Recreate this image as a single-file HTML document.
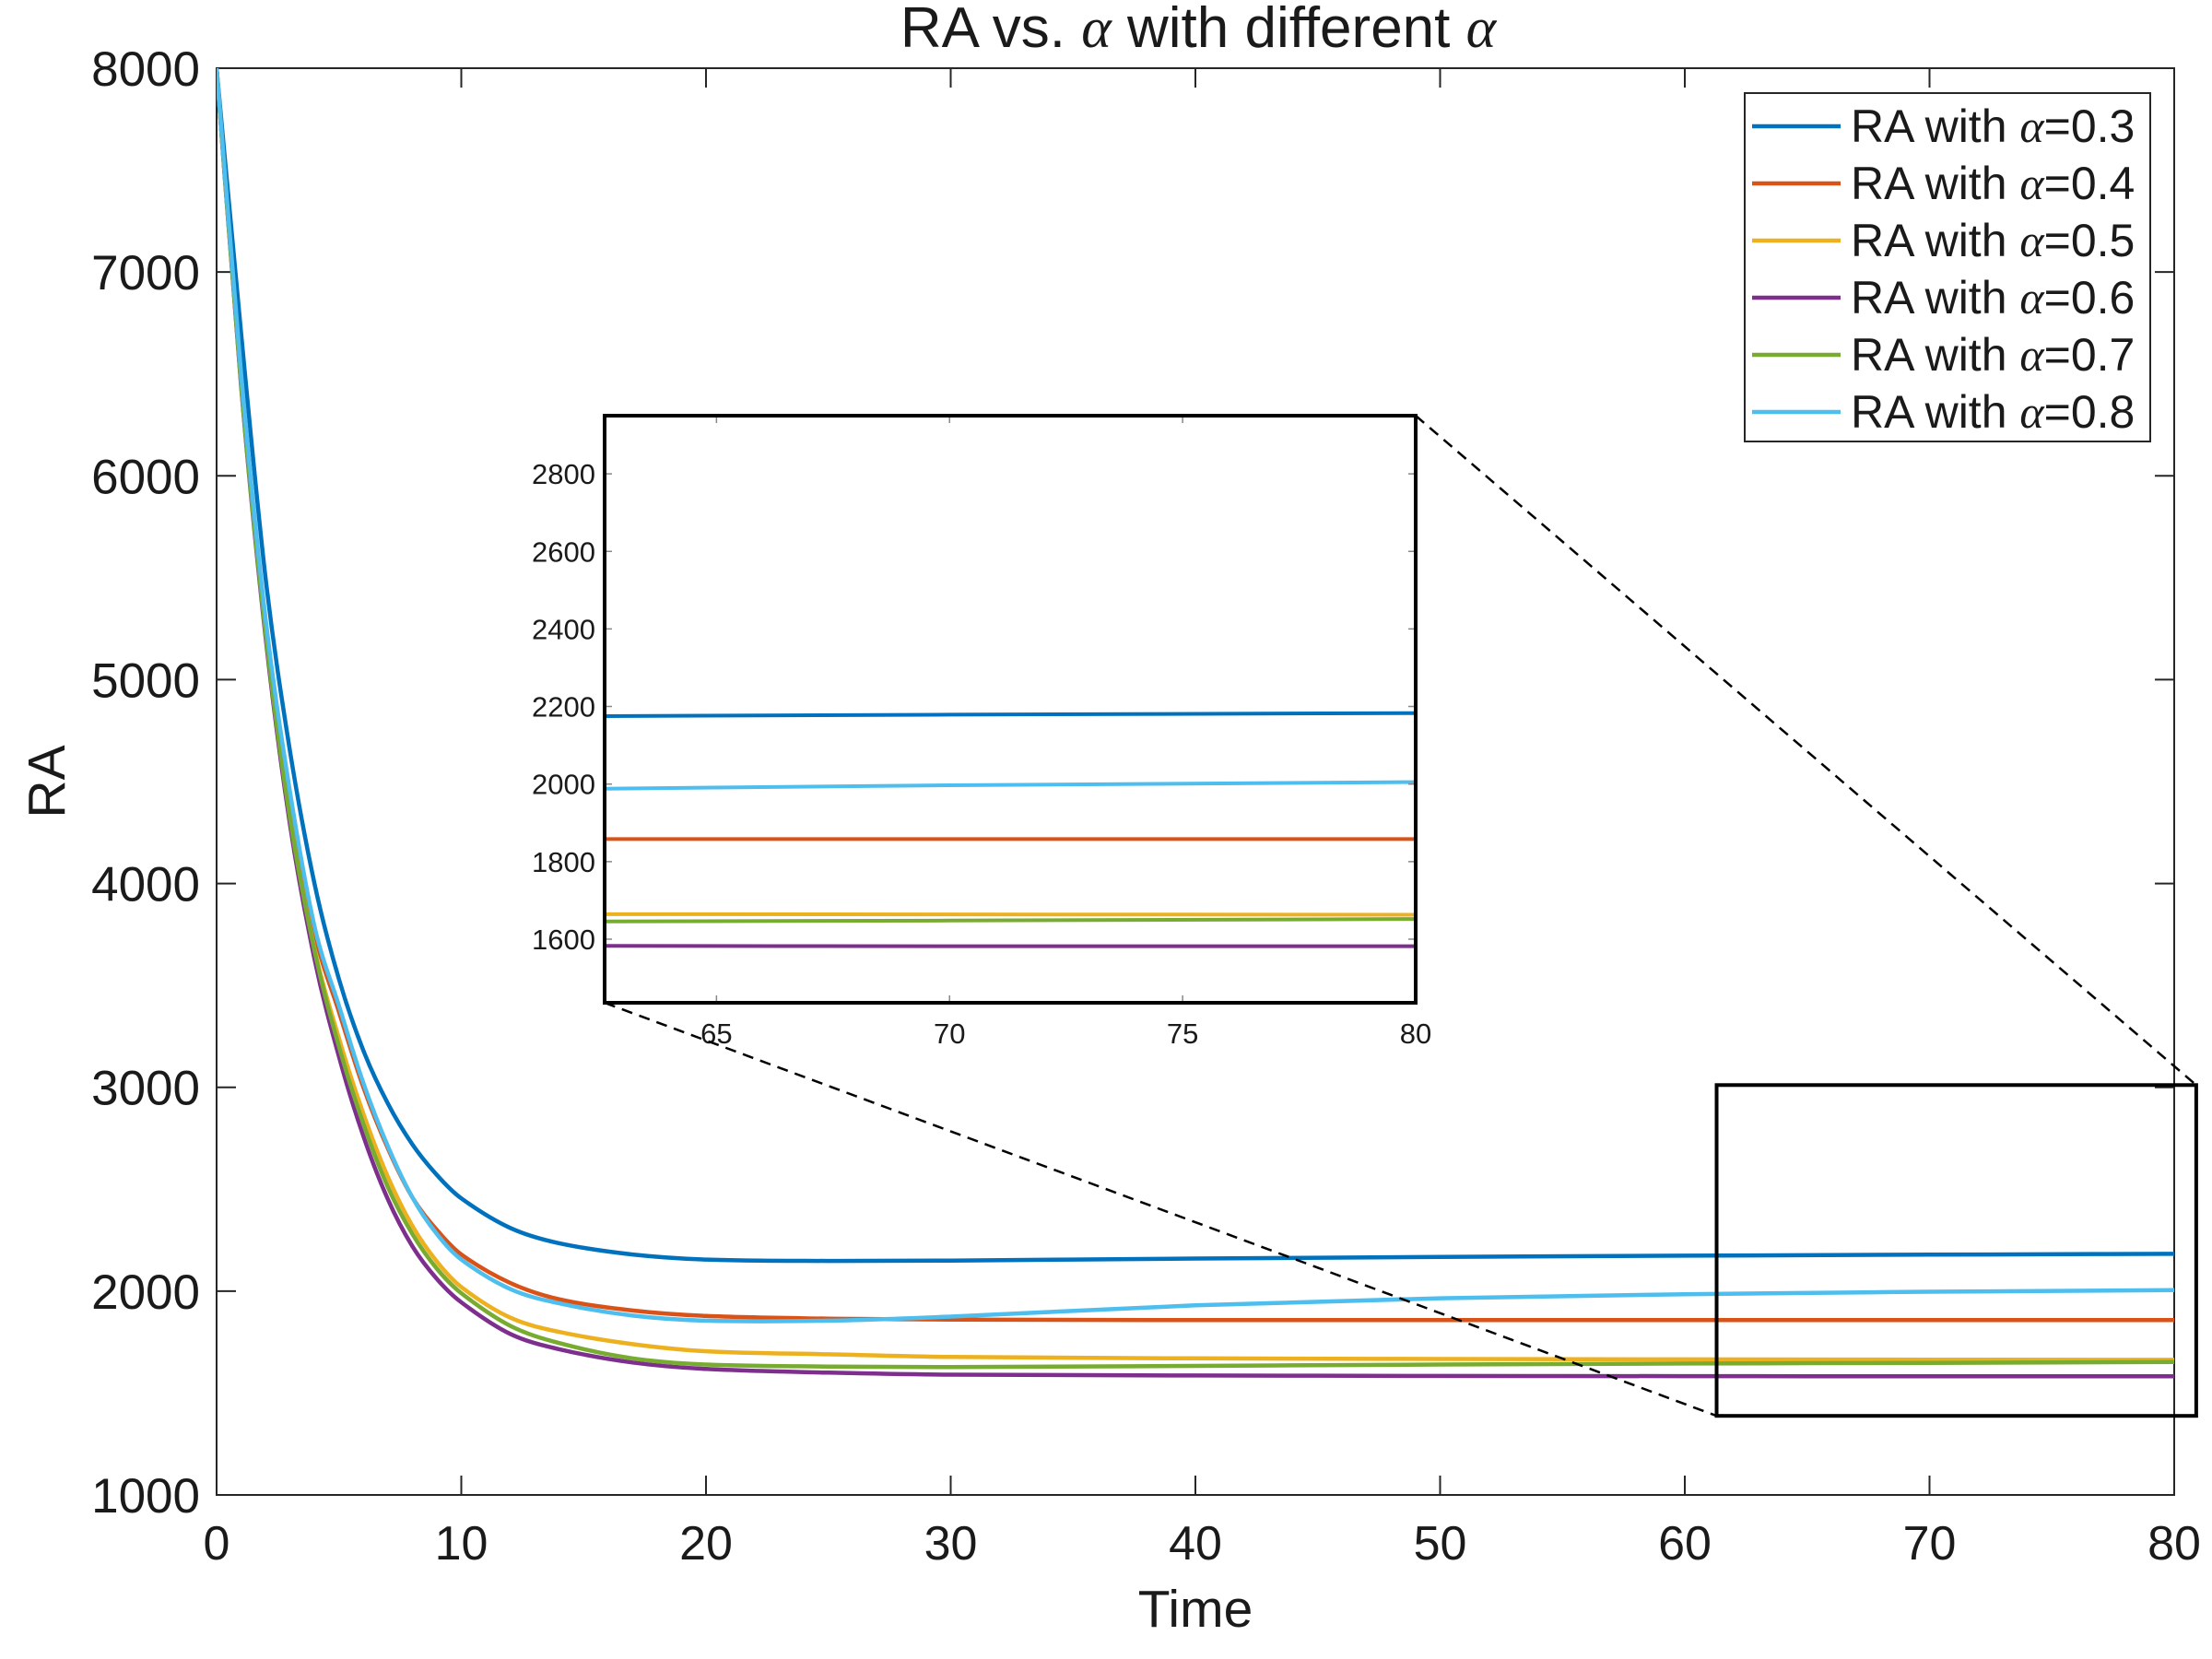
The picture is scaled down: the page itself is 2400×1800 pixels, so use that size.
<!DOCTYPE html>
<html><head><meta charset="utf-8">
<style>
html,body{margin:0;padding:0;background:#fff;}
svg{display:block;}
text{font-family:"Liberation Sans",sans-serif;fill:#1a1a1a;}
.alpha{font-family:"Liberation Serif",serif;font-style:italic;}
</style></head>
<body>
<svg id="chart" width="2400" height="1800" viewBox="0 0 2400 1800" xmlns="http://www.w3.org/2000/svg">
<defs>
<clipPath id="mainClip"><rect x="235" y="74" width="2124" height="1548"/></clipPath>
<clipPath id="insetClip"><rect x="656" y="451" width="880" height="637"/></clipPath>
</defs>
<g id="layer"></g>
</svg>
<script>
const times = [0,1,2,3,4,5,6,7,8,9,10,12,14,17,20,25,30,40,50,60,70,80];
const ra03 = [8000,6700,5500,4650,4000,3530,3180,2920,2720,2570,2455,2310,2235,2180,2155,2148,2150,2160,2168,2174,2179,2183];
const ra04 = [8000,6480,5280,4420,3760,3370,3000,2700,2460,2300,2180,2040,1960,1905,1878,1865,1860,1858,1858,1858,1858,1858];
const ra05 = [8000,6450,5230,4320,3680,3240,2870,2560,2320,2145,2020,1870,1800,1740,1705,1690,1677,1670,1667,1665,1664,1663];
const ra06 = [8000,6440,5210,4290,3630,3150,2760,2450,2220,2060,1945,1790,1715,1650,1618,1600,1590,1586,1584,1583,1582,1582];
const ra07 = [8000,6450,5230,4320,3670,3200,2820,2510,2280,2110,1990,1830,1745,1670,1640,1630,1627,1633,1640,1645,1648,1652];
const ra08 = [8000,6500,5300,4450,3790,3400,3020,2710,2460,2280,2155,2010,1940,1880,1855,1855,1875,1930,1965,1985,1997,2005];
const seriesLabels = ["0.3","0.4","0.5","0.6","0.7","0.8"];
const seriesColors = ["#0072BD","#D95319","#EDB120","#7E2F8E","#77AC30","#4DBEEE"];
const xTicks = [0,10,20,30,40,50,60,70,80];
const yTicks = [1000,2000,3000,4000,5000,6000,7000,8000];
const insetXTicks = [65,70,75,80];
const insetYTicks = [1600,1800,2000,2200,2400,2600,2800];

const NS = "http://www.w3.org/2000/svg";
const layer = document.getElementById('layer');
const allSeries = [ra03,ra04,ra05,ra06,ra07,ra08];

const M = {x0:235,x1:2359,y0:1622,y1:74,tmin:0,tmax:80,vmin:1000,vmax:8000};
function mx(t){return M.x0+(t-M.tmin)/(M.tmax-M.tmin)*(M.x1-M.x0);}
function my(v){return M.y0-(v-M.vmin)/(M.vmax-M.vmin)*(M.y0-M.y1);}
const I = {x0:656,x1:1536,y0:1088,y1:451,tmin:62.6,tmax:80,vmin:1436,vmax:2950};
function ix(t){return I.x0+(t-I.tmin)/(I.tmax-I.tmin)*(I.x1-I.x0);}
function iy(v){return I.y0-(v-I.vmin)/(I.vmax-I.vmin)*(I.y0-I.y1);}

function el(tag, attrs, parent){
  const e=document.createElementNS(NS,tag);
  for(const k in attrs) e.setAttribute(k,attrs[k]);
  (parent||layer).appendChild(e);
  return e;
}
function smoothPath(xs, ys, fx, fy){
  const n=xs.length;
  const m=[];
  for(let i=0;i<n;i++){
    if(i===0) m.push((ys[1]-ys[0])/(xs[1]-xs[0]));
    else if(i===n-1) m.push((ys[n-1]-ys[n-2])/(xs[n-1]-xs[n-2]));
    else m.push((ys[i+1]-ys[i-1])/(xs[i+1]-xs[i-1]));
  }
  let d="M"+fx(xs[0]).toFixed(1)+","+fy(ys[0]).toFixed(1);
  for(let i=0;i<n-1;i++){
    const h=xs[i+1]-xs[i];
    const c1t=xs[i]+h/3, c1v=ys[i]+m[i]*h/3;
    const c2t=xs[i+1]-h/3, c2v=ys[i+1]-m[i+1]*h/3;
    d+=" C"+fx(c1t).toFixed(1)+","+fy(c1v).toFixed(1)+" "+fx(c2t).toFixed(1)+","+fy(c2v).toFixed(1)+" "+fx(xs[i+1]).toFixed(1)+","+fy(ys[i+1]).toFixed(1);
  }
  return d;
}

const title = el('text',{x:1300,y:51,'text-anchor':'middle','font-size':62});


title.innerHTML = 'RA vs. <tspan class="alpha">α</tspan> with different <tspan class="alpha">α</tspan>';

const box = el('rect',{x:M.x0,y:M.y1,width:M.x1-M.x0,height:M.y0-M.y1,fill:'none',stroke:'#262626','stroke-width':2});



xTicks.forEach(t=>{
  const x=mx(t);
  const tk=el('path',{d:`M${x},${M.y0}v-21M${x},${M.y1}v21`,stroke:'#262626','stroke-width':2});
  
  
  const lb=el('text',{x:x,y:1692,'text-anchor':'middle','font-size':52});
  
  
  lb.textContent=t;
});
yTicks.forEach(v=>{
  const y=my(v);
  const tk=el('path',{d:`M${M.x0},${y}h21M${M.x1},${y}h-21`,stroke:'#262626','stroke-width':2});
  
  
  const lb=el('text',{x:217,y:y+19,'text-anchor':'end','font-size':53});
  
  
  lb.textContent=v;
});
const xt=el('text',{x:1297,y:1765,'text-anchor':'middle','font-size':57});


xt.textContent='Time';
const yt=el('text',{x:0,y:0,'text-anchor':'middle','font-size':57,transform:'translate(70,848) rotate(-90)'});


yt.textContent='RA';

const mainG = el('g',{'clip-path':'url(#mainClip)'});
allSeries.forEach((s,i)=>{
  const p=el('path',{d:smoothPath(times,s,mx,my),fill:'none',stroke:seriesColors[i],'stroke-width':4.5,'stroke-linejoin':'round'},mainG);
  
  
});

const zr = {t0:61.3,t1:80.9,v0:1388,v1:3011};
const zrect=el('rect',{x:mx(zr.t0),y:my(zr.v1),width:mx(zr.t1)-mx(zr.t0),height:my(zr.v0)-my(zr.v1),fill:'none',stroke:'#000','stroke-width':4});



const inBg=el('rect',{x:I.x0,y:I.y1,width:I.x1-I.x0,height:I.y0-I.y1,fill:'#fff',stroke:'none'});


const insetG = el('g',{'clip-path':'url(#insetClip)'});
allSeries.forEach((s,i)=>{
  const p=el('path',{d:smoothPath(times,s,ix,iy),fill:'none',stroke:seriesColors[i],'stroke-width':4,'stroke-linejoin':'round'},insetG);
  
  
});
insetXTicks.forEach(t=>{
  const x=ix(t);
  const tk=el('path',{d:`M${x},${I.y0}v-8M${x},${I.y1}v8`,stroke:'#888','stroke-width':1.5});
  
  
  const lb=el('text',{x:x,y:1132,'text-anchor':'middle','font-size':31});
  
  
  lb.textContent=t;
});
insetYTicks.forEach(v=>{
  const y=iy(v);
  const tk=el('path',{d:`M${I.x0},${y}h8M${I.x1},${y}h-8`,stroke:'#888','stroke-width':1.5});
  
  
  const lb=el('text',{x:646,y:y+11,'text-anchor':'end','font-size':31});
  
  
  lb.textContent=v;
});
const inBox=el('rect',{x:I.x0,y:I.y1,width:I.x1-I.x0,height:I.y0-I.y1,fill:'none',stroke:'#000','stroke-width':4});



const c1=el('line',{x1:I.x1,y1:I.y1,x2:mx(zr.t1),y2:my(zr.v1),stroke:'#000','stroke-width':2.5,'stroke-dasharray':'12 8'});


const c2=el('line',{x1:I.x0,y1:I.y0,x2:mx(zr.t0),y2:my(zr.v0),stroke:'#000','stroke-width':2.5,'stroke-dasharray':'12 8'});



const lg=el('g',{});


const lgb=el('rect',{x:1893,y:101,width:440,height:378,fill:'#fff',stroke:'#262626','stroke-width':2},lg);


seriesLabels.forEach((a,i)=>{
  const y=137+i*62;
  const ln=el('line',{x1:1901,y1:y,x2:1997,y2:y,stroke:seriesColors[i],'stroke-width':4.5},lg);
  
  
  const tx=el('text',{x:2008,y:y+17,'font-size':50},lg);
  
  
  tx.innerHTML='RA with <tspan class="alpha">α</tspan>='+a;
});
</script>
</body></html>
